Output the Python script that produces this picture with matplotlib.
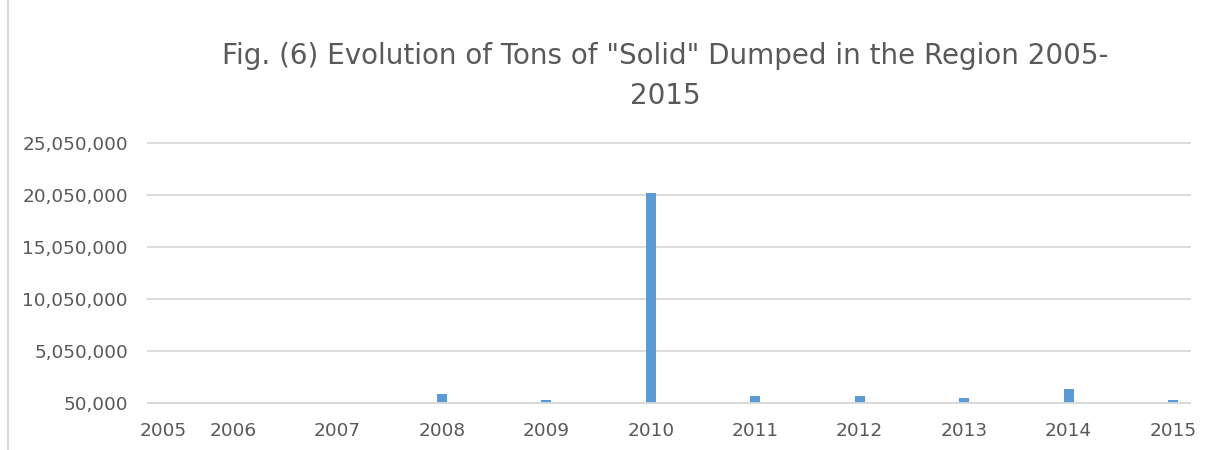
import matplotlib.pyplot as plt
from matplotlib.lines import Line2D
from matplotlib.ticker import FuncFormatter

# values (tons)
years = [2005, 2006, 2007, 2008, 2009, 2010, 2011, 2012, 2013, 2014, 2015]
tons = [0, 0, 0, 920000, 320000, 20200000, 720000, 720000, 520000, 1400000, 320000]
yticks = [50000, 5050000, 10050000, 15050000, 20050000, 25050000]
xlabels = ["2005", "2006", "2007", "2008", "2009", "2010", "2011", "2012", "2013", "2014", "2015"]

grey = "#595959"
fig = plt.figure(figsize=(12.2, 4.5), dpi=100)
ax = fig.add_axes([148 / 1220, 1 - 403 / 450, (1190 - 148) / 1220, (403 - 143) / 450])

ax.bar(years, tons, width=0.096, color="#5b9bd5", zorder=3)
ax.set_ylim(yticks[0], yticks[-1])
ax.set_xlim(2005.186, 2015.163)
ax.set_yticks(yticks)
ax.yaxis.set_major_formatter(FuncFormatter(lambda v, p: f"{int(round(v)):,}"))
# the first label sits just inside the left edge, like in the original
ax.set_xticks([2005.33] + years[1:])
ax.set_xticklabels(xlabels)

ax.grid(axis="y", color="#d9d9d9", linewidth=1.3, zorder=0)
for gl in ax.get_ygridlines():
    gl.set_clip_on(False)
for s in ["top", "right", "left"]:
    ax.spines[s].set_visible(False)
ax.spines["bottom"].set_color("#d9d9d9")
ax.spines["bottom"].set_linewidth(1.3)
ax.spines["bottom"].set_zorder(4)
ax.tick_params(axis="both", length=0, labelsize=13.3, labelcolor=grey)
ax.tick_params(axis="y", pad=14.4)
ax.tick_params(axis="x", pad=14)

fig.text(0.545, 1 - 76 / 450, 'Fig. (6) Evolution of Tons of "Solid" Dumped in the Region 2005-\n2015',
         ha="center", va="center", fontsize=20, color=grey, linespacing=1.55)

fig.add_artist(Line2D([8 / 1220, 8 / 1220], [0, 1], color="#d9d9d9", linewidth=1.5))

fig.savefig("out.png", dpi=100)
